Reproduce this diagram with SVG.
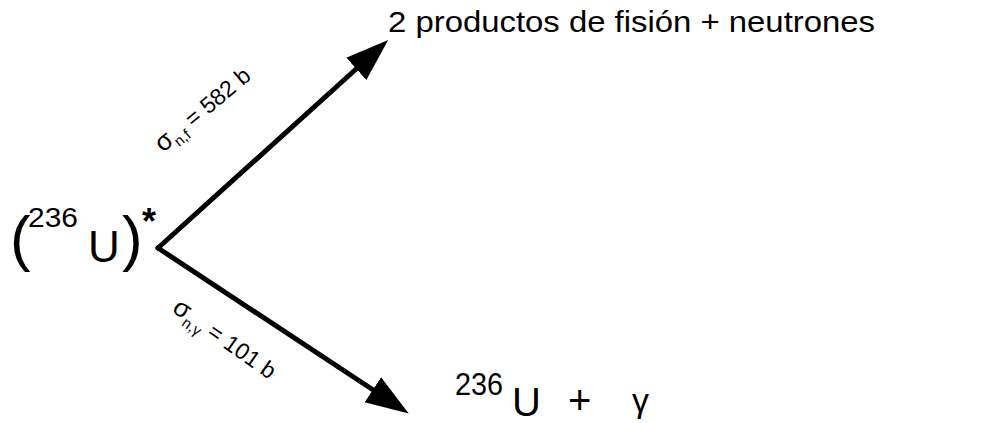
<svg xmlns="http://www.w3.org/2000/svg" width="981" height="423" viewBox="0 0 981 423">
<style>
text{font-family:"Liberation Sans","DejaVu Sans",sans-serif;fill:#000}
.conn{stroke:#000;stroke-width:5;fill:none;stroke-linecap:round}
.lbl{font-size:23px}
.sig{font-size:26px}
.sub{font-size:15px}
</style>
<defs>
<marker id="ah" viewBox="-5 -16 45 32" refX="0" refY="0" markerWidth="45" markerHeight="32" markerUnits="userSpaceOnUse" orient="auto">
<path d="M-5,-15 L38,0 L-5,15 Z" fill="#000"/>
</marker>
</defs>
<rect width="981" height="423" fill="#fff"/>
<g id="connectors">
<line class="conn" x1="158" y1="248" x2="360" y2="65.5" marker-end="url(#ah)"/>
<line class="conn" x1="158" y1="248" x2="377" y2="392.5" marker-end="url(#ah)"/>
<text class="lbl" transform="translate(163,153) rotate(-40)"><tspan class="sig">σ</tspan><tspan class="sub" dy="6">n,f</tspan><tspan dy="-6"> = 582 b</tspan></text>
<text class="lbl" transform="translate(171,311) rotate(35)"><tspan class="sig">σ</tspan><tspan class="sub" dy="6">n,γ</tspan><tspan dy="-6"> = 101 b</tspan></text>
</g>
<g id="node-u236-excited">
<text x="10" y="259" font-size="62">(</text>
<text x="28" y="227" font-size="27" textLength="50" lengthAdjust="spacingAndGlyphs">236</text>
<text x="88" y="262" font-size="44">U</text>
<text x="122" y="259" font-size="62">)</text>
<text x="142" y="234" font-size="36" font-weight="bold">*</text>
</g>
<g id="node-fission">
<text x="388" y="32" font-size="29" textLength="487" lengthAdjust="spacingAndGlyphs">2 productos de fisión + neutrones</text>
</g>
<g id="node-capture">
<text x="455" y="395" font-size="32" textLength="48" lengthAdjust="spacingAndGlyphs">236</text>
<text x="512" y="416" font-size="40">U</text>
<text x="568" y="414" font-size="40">+</text>
<text x="632" y="412" font-size="34">γ</text>
</g>
</svg>
